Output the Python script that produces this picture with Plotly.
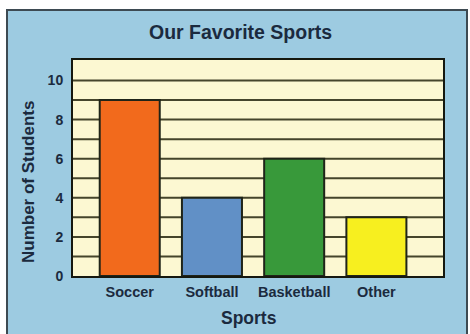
import plotly.graph_objects as go

sports = ["Soccer", "Softball", "Basketball", "Other"]
students = [9, 4, 6, 3]
bar_colors = ["#f26a1c", "#6190c6", "#38993a", "#f7ef1f"]
y_ticks = [0, 2, 4, 6, 8, 10]

W, H = 470, 334
L, R, T, B = 73, 27, 60, 58
pw, ph = W - L - R, H - T - B
FONT = "Liberation Sans, Arial, sans-serif"
TXT = "#1b2a3e"

def px(x):
    return (x - L) / pw

def py(y):
    return (H - B - y) / ph

fig = go.Figure()
fig.add_trace(go.Bar(
    x=list(range(len(sports))), y=students,
    marker=dict(color=bar_colors, line=dict(color="#1f2418", width=2)),
    width=0.73,
))

fig.update_layout(
    width=W, height=H,
    margin=dict(l=L, r=R, t=T, b=B),
    paper_bgcolor="white",
    plot_bgcolor="#fcf8d2",
    showlegend=False,
    font=dict(family=FONT, color=TXT),
    xaxis=dict(
        range=[-0.69, 3.81],
        tickmode="array", tickvals=list(range(len(sports))),
        ticktext=["<b>%s</b>" % s for s in sports],
        tickfont=dict(size=14.5), showgrid=False, zeroline=False,
        ticks="", ticklen=0, ticklabelstandoff=2,
        showline=True, linecolor="#15180f", linewidth=2, mirror=True,
    ),
    yaxis=dict(
        range=[0, 11.05],
        tickmode="array", tickvals=y_ticks,
        ticktext=["<b>%d</b>" % v for v in y_ticks],
        tickfont=dict(size=14),
        showgrid=False, zeroline=False,
        showline=True, linecolor="#15180f", linewidth=2, mirror=True,
        ticks="", ticklabelstandoff=5,
    ),
)

# outer light-blue panel with dark border
fig.add_shape(type="rect", xref="paper", yref="paper",
              x0=px(7), x1=px(467), y0=py(340), y1=py(10),
              fillcolor="#9dcbe1", line=dict(color="#3d4a52", width=2), layer="below")
# cream plotting panel
fig.add_shape(type="rect", xref="paper", yref="paper", x0=0, x1=1, y0=0, y1=1,
              fillcolor="#fcf8d2", line=dict(width=0), layer="below")
# horizontal grid lines at every whole number, drawn beneath bars
for v in range(1, 11):
    fig.add_shape(type="line", xref="paper", yref="y", x0=0, x1=1, y0=v, y1=v,
                  line=dict(color="#45452b", width=2), layer="below")

fig.add_annotation(text="<b>Our Favorite Sports</b>", xref="paper", yref="paper",
                   x=px(240), y=py(32), showarrow=False,
                   xanchor="center", yanchor="middle",
                   font=dict(size=19.5, color=TXT, family=FONT))
fig.add_annotation(text="<b>Sports</b>", xref="paper", yref="paper",
                   x=px(249), y=py(318), showarrow=False,
                   xanchor="center", yanchor="middle",
                   font=dict(size=17.5, color=TXT, family=FONT))
fig.add_annotation(text="<b>Number of Students</b>", xref="paper", yref="paper",
                   x=px(28), y=py(182), showarrow=False, textangle=-90,
                   xanchor="center", yanchor="middle",
                   font=dict(size=17, color=TXT, family=FONT))

fig.write_html("out.html")
